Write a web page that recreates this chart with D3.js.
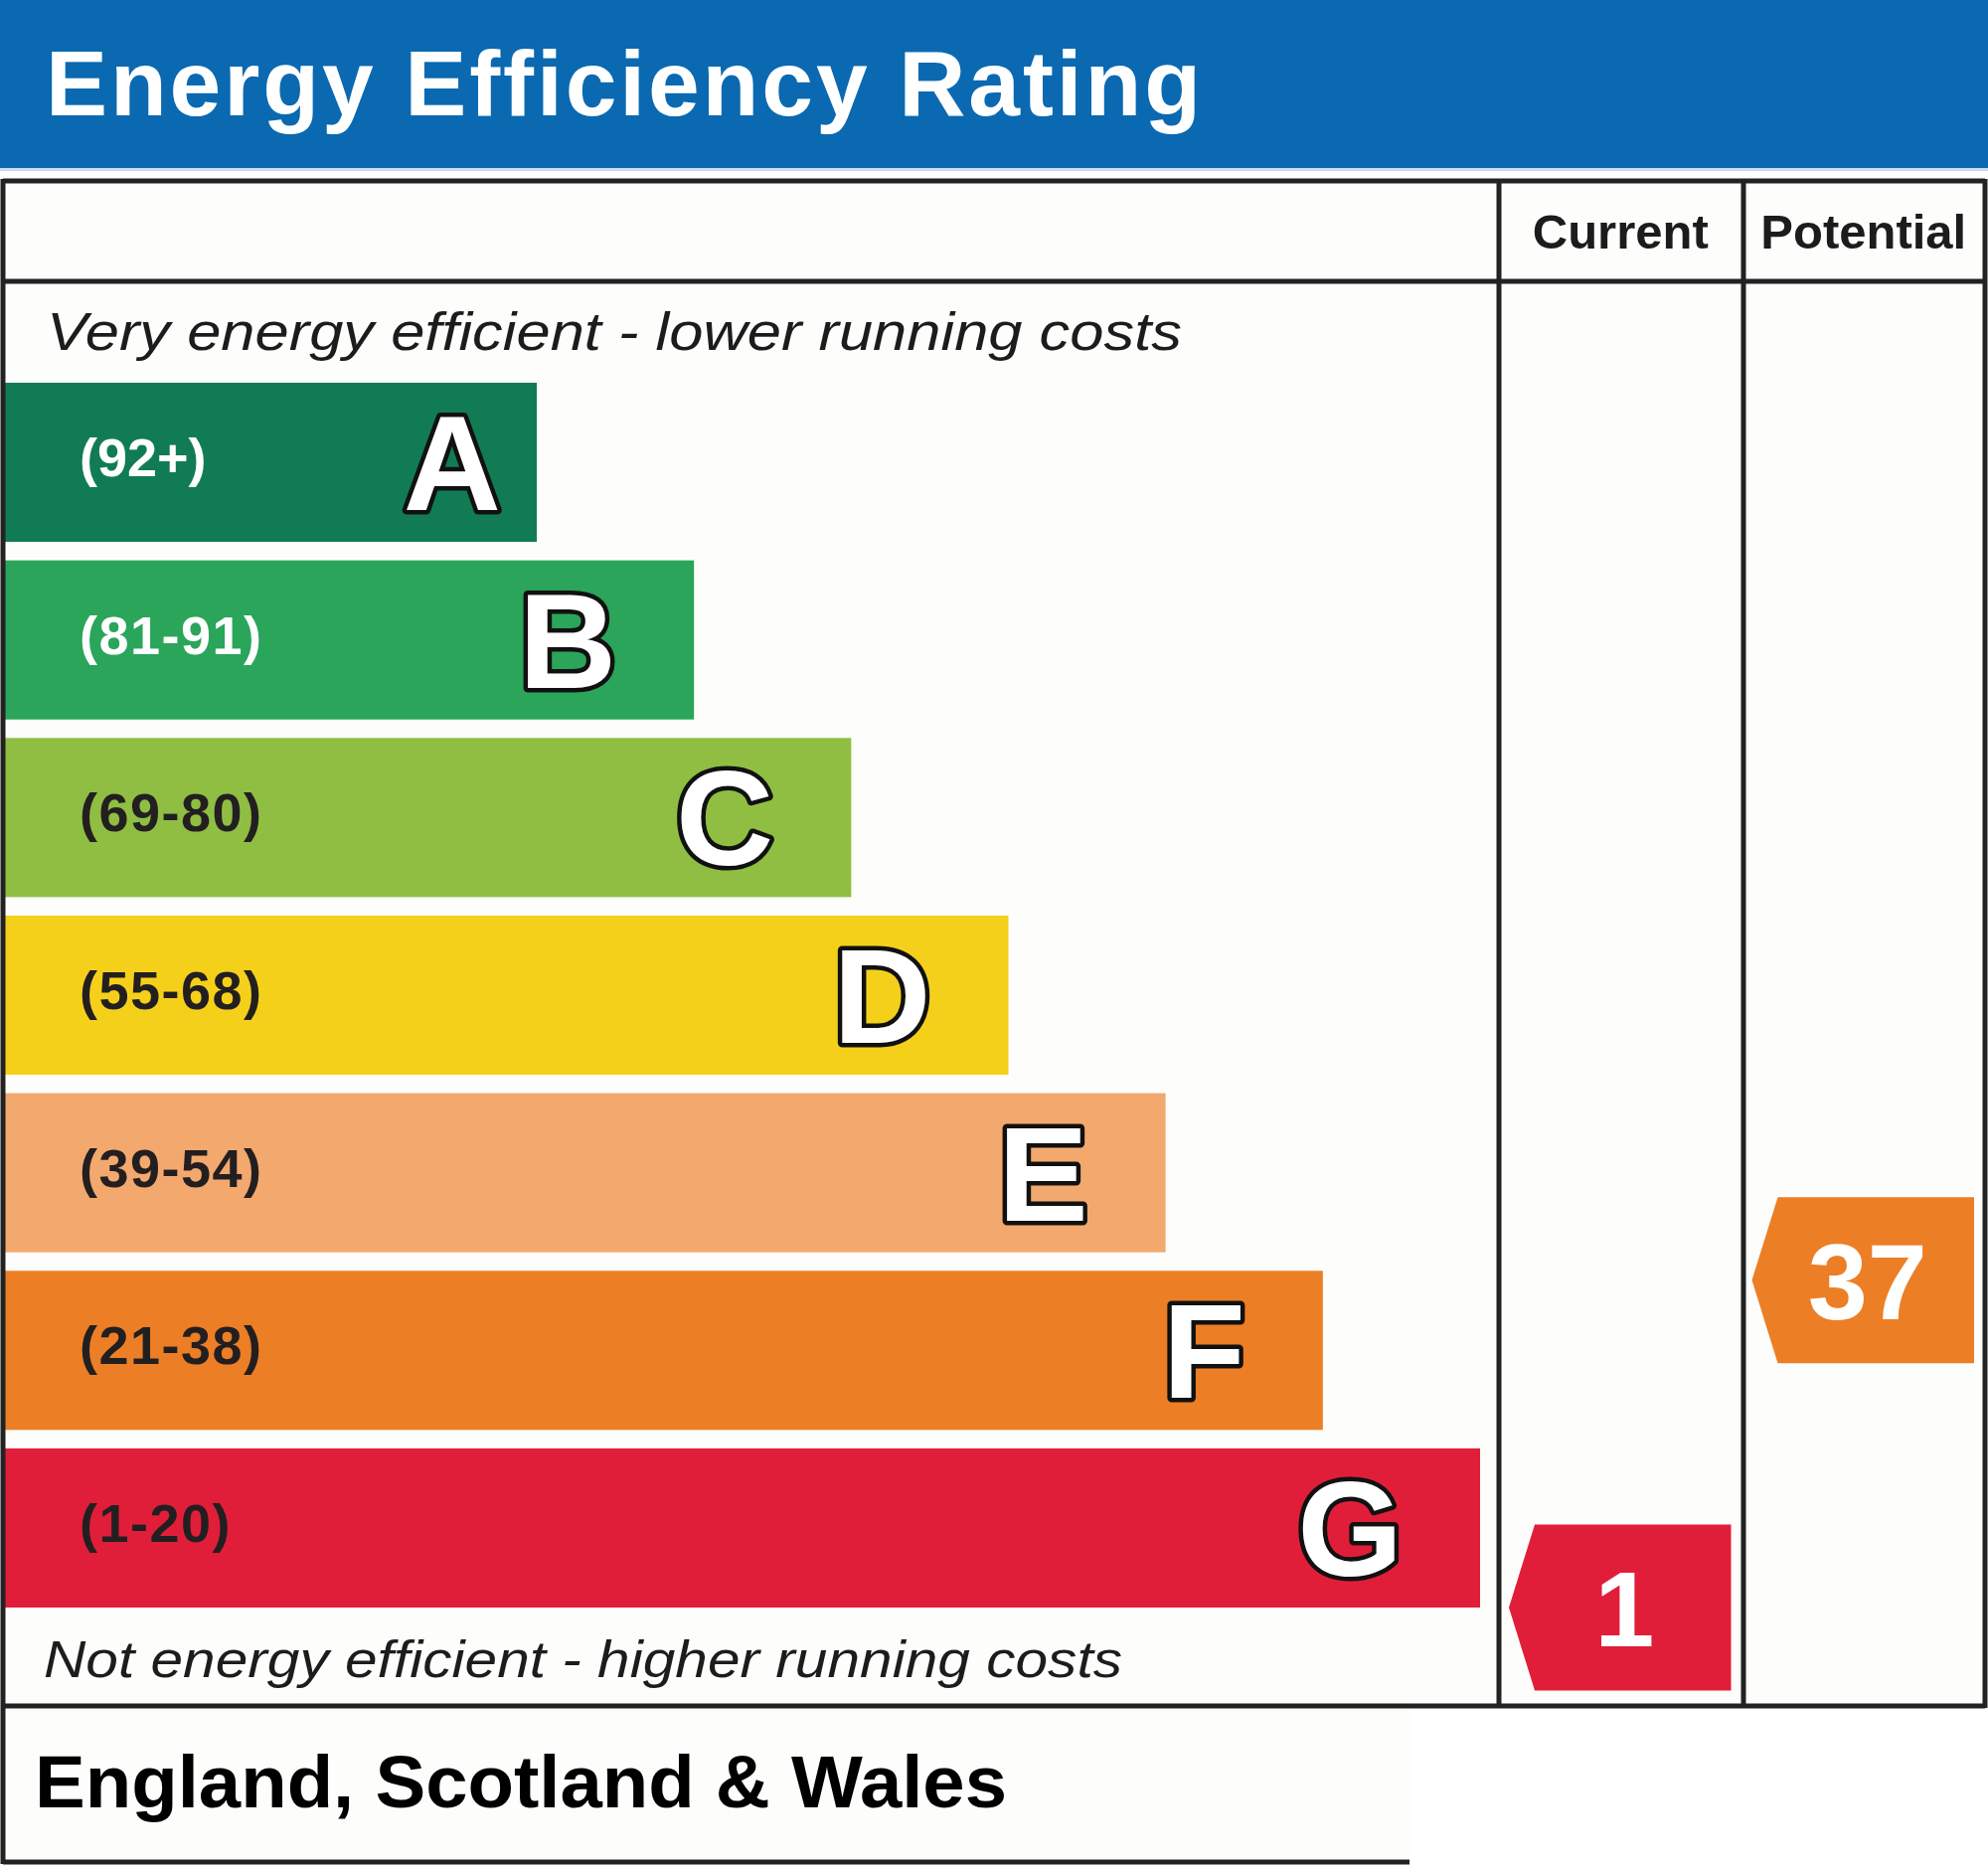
<!DOCTYPE html>
<html>
<head>
<meta charset="utf-8">
<script src="https://cdn.jsdelivr.net/npm/d3@7"></script>
<style>
  body { margin: 0; background: #ffffff; }
  text { font-family: "Liberation Sans", Arial, sans-serif; }
</style>
</head>
<body>
<script>
// rating bands, top (best) to bottom (worst)
var bands = ["A", "B", "C", "D", "E", "F", "G"];
var bandRanges = ["(92+)", "(81-91)", "(69-80)", "(55-68)", "(39-54)", "(21-38)", "(1-20)"];
var bandMin = [92, 81, 69, 55, 39, 21, 1];
var bandMax = [100, 91, 80, 68, 54, 38, 20];
var bandColors = ["#117c54", "#2aa55a", "#8fbe43", "#f5d01a", "#f3a96d", "#ec7e26", "#e11e3a"];
var labelColors = ["#ffffff", "#ffffff", "#231f20", "#231f20", "#231f20", "#231f20", "#231f20"];

// the two ratings
var columns = ["Current", "Potential"];
var ratings = [1, 37];

var W = 2000, H = 1878;
var svg = d3.select("body").append("svg").attr("width", W).attr("height", H);

var y = d3.scaleBand().domain(bands).range([385, 1617]).paddingInner(0.104).paddingOuter(0);
var xLen = d3.scaleLinear().domain([0, bands.length - 1]).range([540, 1489]);
var col = d3.scaleBand().domain(columns).range([1508, 1997]);

// value -> vertical position, piecewise inside each band
var dom = [], rng = [];
for (var i = bands.length - 1; i >= 0; i--) {
  dom.push(bandMin[i], bandMax[i]);
  rng.push(y(bands[i]) + y.bandwidth(), y(bands[i]));
}
var vy = d3.scaleLinear().domain(dom).range(rng);

function bandOf(v) {
  for (var i = 0; i < bands.length; i++) if (v >= bandMin[i] && v <= bandMax[i]) return i;
  return bands.length - 1;
}

// background
svg.append("rect").attr("x", 0).attr("y", 0).attr("width", W).attr("height", H).attr("fill", "#ffffff");
svg.append("rect").attr("x", 3).attr("y", 182).attr("width", 1994).attr("height", 1534).attr("fill", "#fdfdfb");
svg.append("rect").attr("x", 3).attr("y", 1716).attr("width", 1415).attr("height", 157).attr("fill", "#fdfdfb");

// title banner
svg.append("rect").attr("x", 0).attr("y", 0).attr("width", W).attr("height", 169).attr("fill", "#0a69b1");
svg.append("rect").attr("x", 0).attr("y", 169).attr("width", W).attr("height", 3).attr("fill", "#c9dcef");
svg.append("text").attr("x", 46).attr("y", 116)
  .attr("font-size", 93).attr("font-weight", "bold").attr("fill", "#ffffff")
  .attr("textLength", 1162).attr("lengthAdjust", "spacing")
  .text("Energy Efficiency Rating");

// bars
var g = svg.append("g").selectAll("g").data(bands).enter().append("g");

g.append("rect")
  .attr("x", 5)
  .attr("y", function (d) { return y(d); })
  .attr("width", function (d, i) { return xLen(i) - 5; })
  .attr("height", y.bandwidth())
  .attr("fill", function (d, i) { return bandColors[i]; });

g.append("text")
  .attr("x", 80)
  .attr("y", function (d) { return y(d) + y.bandwidth() / 2 + 14; })
  .attr("font-size", 54).attr("font-weight", "bold")
  .attr("letter-spacing", function (d) { return d === "A" ? 0 : 1.5; })
  .attr("fill", function (d, i) { return labelColors[i]; })
  .text(function (d, i) { return bandRanges[i]; });

g.append("text")
  .attr("x", function (d, i) { return xLen(i) - (d === "A" ? 36 : 78); })
  .attr("y", function (d) { return y(d) + y.bandwidth() / 2 + 48; })
  .attr("text-anchor", "end")
  .attr("font-size", 136).attr("font-weight", "bold")
  .attr("fill", "#ffffff").attr("stroke", "#111111").attr("stroke-width", 9)
  .attr("stroke-linejoin", "round").attr("paint-order", "stroke")
  .text(function (d) { return d; });

// efficiency notes
svg.append("text").attr("x", 47).attr("y", 352)
  .attr("font-size", 53).attr("font-style", "italic").attr("fill", "#1c1c1c")
  .attr("textLength", 1142).attr("lengthAdjust", "spacingAndGlyphs")
  .text("Very energy efficient - lower running costs");
svg.append("text").attr("x", 44).attr("y", 1687)
  .attr("font-size", 52).attr("font-style", "italic").attr("fill", "#1c1c1c")
  .attr("textLength", 1085).attr("lengthAdjust", "spacingAndGlyphs")
  .text("Not energy efficient - higher running costs");

// column headers
svg.append("g").selectAll("text").data(columns).enter().append("text")
  .attr("x", function (d) { return col(d) + col.bandwidth() / 2; })
  .attr("y", 250)
  .attr("text-anchor", "middle")
  .attr("font-size", 49).attr("font-weight", "bold").attr("fill", "#1c1c1c")
  .text(function (d) { return d; });

// rating arrows
var ah = 167, notch = 26;
var arrows = svg.append("g").selectAll("g").data(ratings).enter().append("g");
arrows.append("path")
  .attr("d", function (v, i) {
    var x0 = col(columns[i]) + 10, x1 = col(columns[i]) + col.bandwidth() - 11;
    var cy = vy(v);
    return "M" + x0 + "," + cy + "L" + (x0 + notch) + "," + (cy - ah / 2) +
      "L" + x1 + "," + (cy - ah / 2) + "L" + x1 + "," + (cy + ah / 2) +
      "L" + (x0 + notch) + "," + (cy + ah / 2) + "Z";
  })
  .attr("fill", function (v) { return bandColors[bandOf(v)]; });
arrows.append("text")
  .attr("x", function (v, i) { return col(columns[i]) + col.bandwidth() / 2 + 4; })
  .attr("y", function (v) { return vy(v) + 39; })
  .attr("text-anchor", "middle")
  .attr("font-size", 108).attr("font-weight", "bold").attr("fill", "#ffffff")
  .text(function (v) { return v; });

// table lines
var lines = [
  [3, 182, 1997, 182],
  [3, 283, 1997, 283],
  [3, 1716, 1997, 1716],
  [3, 1873, 1418, 1873],
  [3, 180, 3, 1875],
  [1508, 182, 1508, 1716],
  [1754, 182, 1754, 1716],
  [1997, 180, 1997, 1718]
];
svg.append("g").selectAll("line").data(lines).enter().append("line")
  .attr("x1", function (d) { return d[0]; }).attr("y1", function (d) { return d[1]; })
  .attr("x2", function (d) { return d[2]; }).attr("y2", function (d) { return d[3]; })
  .attr("stroke", "#222222").attr("stroke-width", 5);

// footer
svg.append("text").attr("x", 35).attr("y", 1818)
  .attr("font-size", 74).attr("font-weight", "bold").attr("fill", "#000000")
  .attr("textLength", 978).attr("lengthAdjust", "spacingAndGlyphs")
  .text("England, Scotland & Wales");
</script>
</body>
</html>
